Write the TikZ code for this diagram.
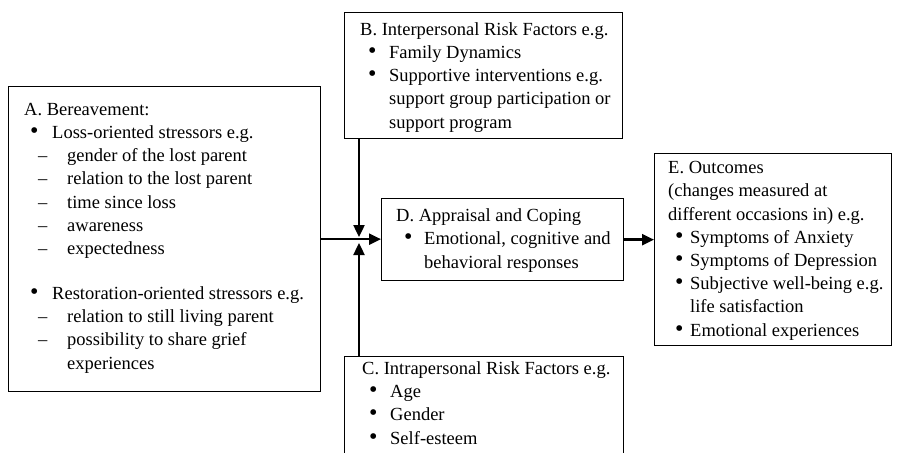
\documentclass[tikz,border=0pt]{standalone}
\usepackage{fontspec}
\setmainfont{Liberation Serif}
\usetikzlibrary{arrows.meta}

% bullet and dash items: indent, then width of the marker box
\newcommand{\bitem}[2]{\hspace*{#1}\makebox[#2][l]{\scalebox{1.3}{\textbullet}}}
\newcommand{\ditem}{\hspace*{14pt}\makebox[29pt][l]{--}}

\begin{document}
\begin{tikzpicture}[
  x=1pt, y=-1pt,
  box/.style={rectangle, draw, line width=1.3pt, anchor=north west, inner sep=0pt},
  txt/.style={anchor=base west, align=left, inner sep=0pt, font=\fontsize{18.5pt}{23.2pt}\selectfont},
  conn/.style={line width=2.4pt, -{Triangle[length=12pt, width=11pt]}}
]
\clip (0,0) rectangle (898,453);

\node[box, minimum width=312pt, minimum height=305pt] (A) at (8,86) {};
\node[box, minimum width=278pt, minimum height=126pt] (B) at (344,12) {};
\node[box, minimum width=279pt, minimum height=130pt] (C) at (344,356) {};
\node[box, minimum width=242pt, minimum height=82pt] (D) at (381,198) {};
\node[box, minimum width=237pt, minimum height=192pt] (E) at (654,153) {};

% texts are placed by the baseline of their last line
\node[txt] (Atxt) at (24,369) {A. Bereavement:\\
\bitem{6pt}{22pt}Loss-oriented stressors e.g.\\
\ditem gender of the lost parent\\
\ditem relation to the lost parent\\
\ditem time since loss\\
\ditem awareness\\
\ditem expectedness\\[21.8pt]
\bitem{6pt}{22pt}Restoration-oriented stressors e.g.\\
\ditem relation to still living parent\\
\ditem possibility to share grief\\
\hspace*{43pt}experiences};

\node[txt] (Btxt) at (360,128) {B. Interpersonal Risk Factors e.g.\\
\bitem{8pt}{21pt}Family Dynamics\\
\bitem{8pt}{21pt}Supportive interventions e.g.\\
\hspace*{29pt}support group participation or\\
\hspace*{29pt}support program};

\node[txt] (Ctxt) at (362,444) {C. Intrapersonal Risk Factors e.g.\\
\bitem{7pt}{21pt}Age\\
\bitem{7pt}{21pt}Gender\\
\bitem{7pt}{21pt}Self-esteem};

\node[txt] (Dtxt) at (396,268) {D. Appraisal and Coping\\
\bitem{8pt}{20pt}Emotional, cognitive and\\
\hspace*{28pt}behavioral responses};

\node[txt] (Etxt) at (668,336) {E. Outcomes\\
(changes measured at\\
different occasions in) e.g.\\
\bitem{7pt}{15pt}Symptoms of Anxiety\\
\bitem{7pt}{15pt}Symptoms of Depression\\
\bitem{7pt}{15pt}Subjective well-being e.g.\\
\hspace*{22pt}life satisfaction\\
\bitem{7pt}{15pt}Emotional experiences};

\coordinate (jb) at (359,237);
\coordinate (jc) at (359,243);

\draw[conn] (A.east) -- (A.east -| D.west);
\draw[conn] (B.south -| jb) -- (jb);
\draw[conn] (C.north -| jc) -- (jc);
\draw[conn] (D.east) -- (D.east -| E.west);
\end{tikzpicture}
\end{document}
